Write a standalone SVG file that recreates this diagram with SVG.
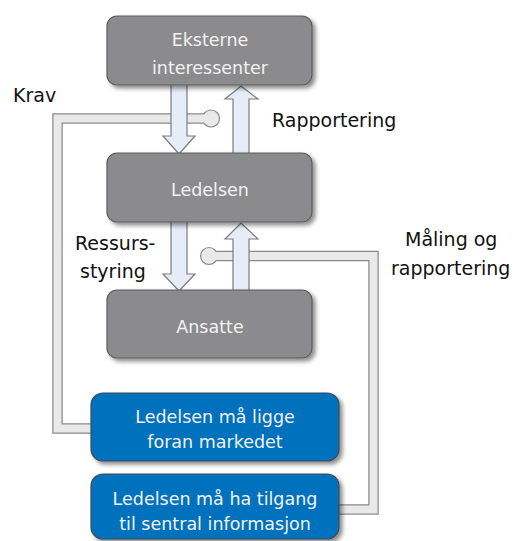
<svg xmlns="http://www.w3.org/2000/svg" width="515" height="541" viewBox="0 0 515 541">
  <defs>
    <filter id="shadow" x="-10%" y="-10%" width="125%" height="130%">
      <feDropShadow dx="3" dy="3" stdDeviation="2" flood-color="#000" flood-opacity="0.45"/>
    </filter>
    <style>
      .gray { fill: #8b8b8d; stroke: #5c5c5c; stroke-width: 1.2; filter: url(#shadow); }
      .blue { fill: #0071bd; stroke: #3d4b58; stroke-width: 1.2; filter: url(#shadow); }
      .ntext { font-family: "DejaVu Sans", "Liberation Sans", sans-serif; font-size: 17.5px; fill: #f2f2f2; text-anchor: middle; }
      .label { font-family: "DejaVu Sans", "Liberation Sans", sans-serif; font-size: 19px; fill: #111; }
      .pipe-out { fill: none; stroke: #8a8a8a; stroke-width: 10.5; stroke-linejoin: miter; }
      .pipe-in { fill: none; stroke: #e8e9e8; stroke-width: 8; stroke-linejoin: miter; }
      .knob { fill: #e8e9e8; stroke: #8a8a8a; stroke-width: 1.2; }
      .arrow { fill: #e6ecf8; stroke: #7c7c7c; stroke-width: 1.2; stroke-linejoin: miter; }
    </style>
  </defs>

  <g id="connectors">
    <!-- Krav: bottom-left box up to the top flow -->
    <path class="pipe-out" d="M 95 428.5 H 57.5 V 118.5 H 211"/>
    <circle class="knob" cx="211" cy="118.5" r="8.5"/>
    <path class="pipe-in" d="M 95 428.5 H 57.5 V 118.5 H 211"/>

    <!-- Måling og rapportering: bottom box up to the lower flow -->
    <path class="pipe-out" d="M 209 256 H 373.5 V 509.5 H 335"/>
    <circle class="knob" cx="209" cy="256" r="8.5"/>
    <path class="pipe-in" d="M 209 256 H 373.5 V 509.5 H 335"/>

    <!-- block arrows -->
    <polygon class="arrow" points="171,80 187,80 187,136 195,136 179,154 163,136 171,136"/>
    <polygon class="arrow" points="233,158 249,158 249,99 258,99 241,86 225,99 233,99"/>
    <polygon class="arrow" points="171,218 187,218 187,274 195,274 179,291 163,274 171,274"/>
    <polygon class="arrow" points="233,294 249,294 249,239 258,239 241,223 225,239 233,239"/>
  </g>

  <g id="node-eksterne">
    <rect class="gray" x="107" y="16" width="205" height="69" rx="10"/>
    <text class="ntext" x="210" y="46">Eksterne</text>
    <text class="ntext" x="210" y="74">interessenter</text>
  </g>

  <g id="node-ledelsen">
    <rect class="gray" x="107" y="153" width="205" height="69" rx="10"/>
    <text class="ntext" x="210" y="196">Ledelsen</text>
  </g>

  <g id="node-ansatte">
    <rect class="gray" x="107" y="290" width="205" height="68" rx="10"/>
    <text class="ntext" x="210" y="333">Ansatte</text>
  </g>

  <g id="node-marked">
    <rect class="blue" x="91" y="393" width="248" height="68" rx="12"/>
    <text class="ntext" x="215" y="423">Ledelsen må ligge</text>
    <text class="ntext" x="215" y="448">foran markedet</text>
  </g>

  <g id="node-informasjon">
    <rect class="blue" x="91" y="474" width="248" height="65" rx="12"/>
    <text class="ntext" x="215" y="505">Ledelsen må ha tilgang</text>
    <text class="ntext" x="215" y="530">til sentral informasjon</text>
  </g>

  <g id="labels">
    <text class="label" x="13" y="102">Krav</text>
    <text class="label" x="272" y="127">Rapportering</text>
    <text class="label" x="75" y="250">Ressurs-</text>
    <text class="label" x="80" y="278">styring</text>
    <text class="label" x="405" y="246">Måling og</text>
    <text class="label" x="391" y="275">rapportering</text>
  </g>
</svg>
